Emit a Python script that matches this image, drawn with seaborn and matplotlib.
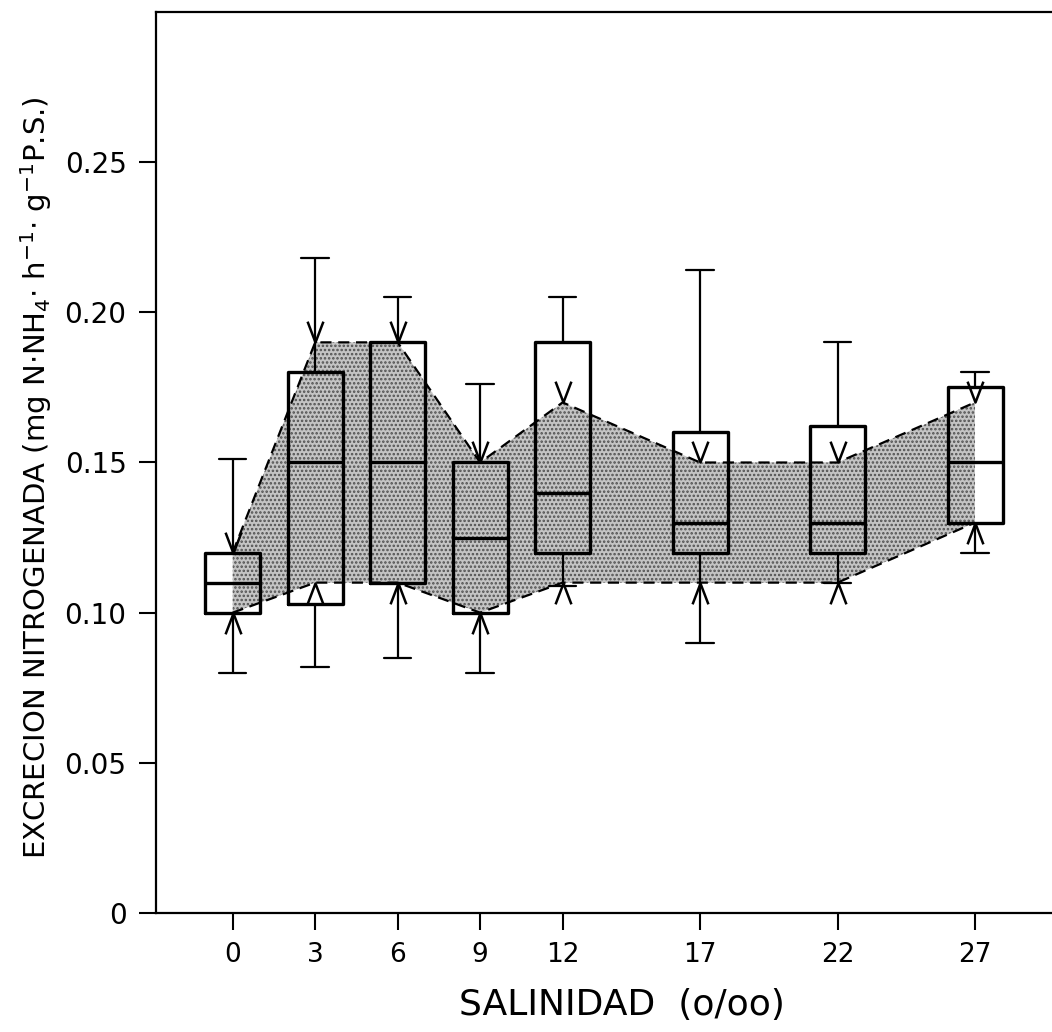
import numpy as np
import pandas as pd
import matplotlib
matplotlib.use("Agg")
import matplotlib.pyplot as plt
import seaborn as sns
from matplotlib.path import Path

# ---- data ----
salinity = [0, 3, 6, 9, 12, 17, 22, 27]
whisker_low = [0.080, 0.082, 0.085, 0.080, 0.109, 0.090, 0.110, 0.120]
quart1 = [0.100, 0.103, 0.110, 0.100, 0.120, 0.120, 0.120, 0.130]
median = [0.110, 0.150, 0.150, 0.125, 0.140, 0.130, 0.130, 0.150]
quart3 = [0.120, 0.180, 0.190, 0.150, 0.190, 0.160, 0.162, 0.175]
whisker_high = [0.151, 0.218, 0.205, 0.176, 0.205, 0.214, 0.190, 0.180]
band_upper = [0.12, 0.19, 0.19, 0.15, 0.17, 0.15, 0.15, 0.17]
band_lower = [0.10, 0.11, 0.11, 0.10, 0.11, 0.11, 0.11, 0.13]
x_ticklabels = ["0", "3", "6", "9", "12", "17", "22", "27"]
y_ticks = [0, 0.05, 0.10, 0.15, 0.20, 0.25]
y_ticklabels = ["0", "0.05", "0.10", "0.15", "0.20", "0.25"]

sns.set_style("ticks")
plt.rcParams["font.family"] = ["DejaVu Sans"]
plt.rcParams["mathtext.default"] = "regular"
plt.rcParams["hatch.linewidth"] = 1.2
plt.rcParams["text.color"] = "black"
plt.rcParams["axes.labelcolor"] = "black"

rows = []
for s, lo, a, m, b, hi in zip(salinity, whisker_low, quart1, median, quart3, whisker_high):
    for v in (lo, a, m, b, hi):
        rows.append({"salinidad": s, "excrecion": v})
df = pd.DataFrame(rows)
band_df = pd.DataFrame({"salinidad": salinity, "upper": band_upper, "lower": band_lower})

fig = plt.figure(figsize=(10.52, 10.32), dpi=100)
ax = fig.add_axes([0.148, 0.1153, 0.852, 0.8731])

# stippled band
ax.fill_between(band_df["salinidad"], band_df["lower"], band_df["upper"],
                facecolor="#c4c4c4", hatch="....", edgecolor="#505050",
                linewidth=0, zorder=0.5)
sns.lineplot(data=band_df, x="salinidad", y="upper", ax=ax, color="black",
             linestyle=(0, (5, 3)), linewidth=1.6, zorder=1)
sns.lineplot(data=band_df, x="salinidad", y="lower", ax=ax, color="black",
             linestyle=(0, (5, 3)), linewidth=1.6, zorder=1)

sns.boxplot(data=df, x="salinidad", y="excrecion", orient="x", native_scale=True,
            width=2 / 3, whis=(0, 100), fill=False, color="black", linewidth=2.4,
            whiskerprops={"linewidth": 1.6}, capprops={"linewidth": 1.6},
            medianprops={"linewidth": 2.4}, showfliers=False, ax=ax)

# arrow heads pointing at band limits
down_head = Path([(-0.38, 1.0), (0, 0), (0.38, 1.0)], [Path.MOVETO, Path.LINETO, Path.LINETO])
up_head = Path([(-0.38, -1.0), (0, 0), (0.38, -1.0)], [Path.MOVETO, Path.LINETO, Path.LINETO])
ax.plot(band_df["salinidad"], band_df["upper"], linestyle="none", marker=down_head,
        markersize=30, markeredgewidth=1.8, markerfacecolor="none",
        markeredgecolor="black", zorder=4)
ax.plot(band_df["salinidad"], band_df["lower"], linestyle="none", marker=up_head,
        markersize=30, markeredgewidth=1.8, markerfacecolor="none",
        markeredgecolor="black", zorder=4)

ax.set_xlim(-2.8, 29.8)
ax.set_ylim(0, 0.30)
ax.set_xticks(salinity)
ax.set_xticklabels(x_ticklabels, fontsize=19)
ax.set_yticks(y_ticks)
ax.set_yticklabels(y_ticklabels, fontsize=20)
ax.tick_params(direction="out", length=12, width=1.5, pad=9, colors="black")

for side in ["left", "bottom", "top"]:
    ax.spines[side].set_linewidth(1.6)
    ax.spines[side].set_color("black")
ax.spines["right"].set_visible(False)

ax.set_xlabel("SALINIDAD  (o/oo)", fontsize=26)
ax.xaxis.set_label_coords(0.52, -0.083)
ax.set_ylabel(r"EXCRECION NITROGENADA (mg N$\cdot$NH$_4$$\cdot$ h$^{-1}$$\cdot$ g$^{-1}$P.S.)",
              fontsize=21)
ax.yaxis.set_label_coords(-0.113, 0.483)

fig.savefig("out.png", dpi=100, facecolor="white")
